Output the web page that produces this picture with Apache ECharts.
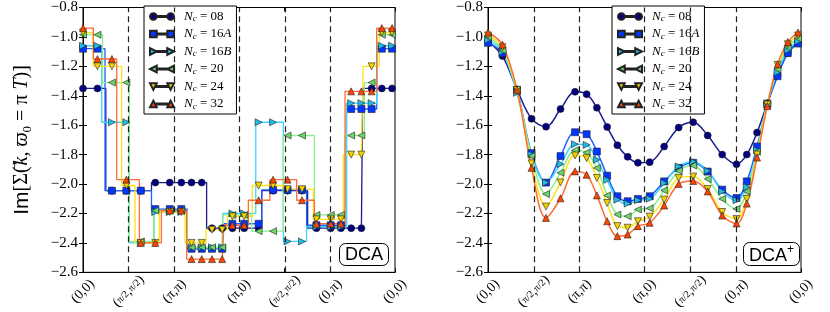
<!DOCTYPE html>
<html><head><meta charset="utf-8">
<script src="https://cdn.jsdelivr.net/npm/echarts@6/dist/echarts.min.js"></script>
<style>html,body{margin:0;padding:0;background:#fff}#c{width:830px;height:312px}</style>
</head><body><div id="c"></div>
<script>
// ---------------- data ----------------
const seriesNames = ['N_c = 08', 'N_c = 16A', 'N_c = 16B', 'N_c = 20', 'N_c = 24', 'N_c = 32'];
const kTickPos = [0, 2.2214, 4.4429, 7.5845, 9.8059, 12.0273, 15.1689];
const kTickLabels = ['(0,0)', '(π/2,π/2)', '(π,π)', '(π,0)', '(π/2,π/2)', '(0,π)', '(0,0)'];
const yTicks = [-2.6, -2.4, -2.2, -2.0, -1.8, -1.6, -1.4, -1.2, -1.0, -0.8];
// k-points (path length) where markers sit
const kSample = [0, 0.703, 1.406, 2.109, 2.811, 3.514, 4.217, 4.780, 5.277, 5.774, 6.271, 6.768, 7.265,
  7.836, 8.538, 9.241, 9.944, 10.647, 11.350, 12.044, 12.541, 13.038, 13.535, 14.032, 14.529, 15.026];

// DCA (left panel): piecewise-constant self-energy, patch boundaries and levels
const dca08Edges = [1.11, 3.33, 6.01, 8.69, 10.92, 13.6];
const dca08Levels = [-1.35, -2.045, -1.99, -2.30, -2.045, -2.30, -1.35];
const dca16AEdges = [1.07, 3.33, 5.07, 6.85, 8.69, 10.87, 12.81, 14.28];
const dca16ALevels = [-1.08, -2.045, -2.17, -2.44, -2.27, -2.04, -2.28, -1.49, -1.08];
const dca16BEdges = [0.91, 2.25, 3.45, 5.07, 6.8, 8.4, 9.74, 10.87, 12.81, 14.28];
const dca16BLevels = [-1.06, -1.58, -2.40, -2.19, -2.43, -2.20, -1.58, -2.39, -2.29, -1.45, -1.06];
const dca20Edges = [0.95, 2.25, 3.45, 5.07, 6.8, 8.2, 9.74, 11.25, 12.74, 13.68, 14.28];
const dca20Levels = [-0.985, -1.31, -2.39, -2.18, -2.43, -2.21, -2.32, -1.67, -2.21, -1.67, -1.31, -0.985];
const dca24Edges = [0.5, 1.88, 2.53, 3.71, 4.96, 5.98, 7.03, 8.23, 9.74, 11.2, 12.66, 13.62, 14.41];
const dca24Levels = [-0.97, -1.20, -2.01, -2.40, -2.19, -2.40, -2.31, -2.22, -2.01, -2.035, -2.24, -1.80, -1.20, -0.97];
const dca32Edges = [0.5, 1.64, 2.74, 3.81, 5.04, 6.85, 8.04, 9.09, 10.39, 11.25, 12.74, 14.28];
const dca32Levels = [-0.94, -1.15, -1.97, -2.40, -2.18, -2.51, -2.28, -2.11, -1.97, -2.11, -2.27, -1.37, -0.94];

// DCA+ (right panel): values at kSample
const dcap08 = [-1.03, -1.13, -1.357, -1.556, -1.61, -1.49, -1.373, -1.389, -1.481, -1.612, -1.736, -1.815, -1.855,
  -1.851, -1.745, -1.616, -1.58, -1.67, -1.80, -1.865, -1.80, -1.65, -1.45, -1.26, -1.11, -1.035];
const dcap16A = [-1.04, -1.11, -1.36, -1.79, -1.99, -1.81, -1.648, -1.661, -1.779, -1.943, -2.083, -2.117, -2.101,
  -2.083, -1.982, -1.89, -1.855, -1.915, -2.038, -2.095, -1.982, -1.745, -1.46, -1.267, -1.11, -1.045];
const dcap16B = [-1.02, -1.10, -1.38, -1.80, -1.99, -1.865, -1.729, -1.734, -1.835, -1.971, -2.106, -2.133, -2.11,
  -2.10, -1.993, -1.88, -1.848, -1.91, -2.05, -2.11, -2.02, -1.77, -1.45, -1.24, -1.09, -1.03];
const dcap20 = [-1.00, -1.09, -1.37, -1.81, -2.068, -1.923, -1.77, -1.786, -1.891, -2.077, -2.207, -2.219, -2.173,
  -2.165, -2.043, -1.91, -1.874, -1.966, -2.101, -2.169, -2.05, -1.78, -1.45, -1.22, -1.07, -1.01];
const dcap24 = [-0.99, -1.07, -1.36, -1.86, -2.153, -1.989, -1.806, -1.824, -1.959, -2.129, -2.286, -2.297, -2.253,
  -2.221, -2.106, -1.959, -1.949, -2.034, -2.19, -2.237, -2.101, -1.80, -1.46, -1.19, -1.05, -0.99];
const dcap32 = [-0.97, -1.053, -1.36, -1.89, -2.23, -2.097, -1.914, -1.937, -2.077, -2.253, -2.354, -2.343, -2.286,
  -2.263, -2.146, -1.999, -1.979, -2.05, -2.214, -2.268, -2.133, -1.82, -1.47, -1.186, -1.035, -0.97];

// ---------------- style ----------------
const lineColors = ['#1c1c92', '#2060ff', '#3cd4ff', '#8cee8c', '#ffe21a', '#ff6a36'];
const markerColors = ['#000080', '#0036ff', '#22bce8', '#6ed66e', '#f2d200', '#ff4400'];
const symbols = ['circle', 'rect', 'triangle', 'triangle', 'triangle', 'triangle'];
const symbolRot = [0, 0, -90, 90, 180, 0];
const legendIcons = [
  'path://M0,3.5A3.5,3.5,0,1,1,7,3.5A3.5,3.5,0,1,1,0,3.5ZM7,3H18V4H7ZM18,3.5A3.5,3.5,0,1,1,25,3.5A3.5,3.5,0,1,1,18,3.5Z',
  'path://M0,0H7V7H0ZM7,3H18V4H7ZM18,0H25V7H18Z',
  'path://M0,0L7,3.5L0,7ZM7,3H18V4H7ZM18,0L25,3.5L18,7Z',
  'path://M7,0L0,3.5L7,7ZM7,3H18V4H7ZM25,0L18,3.5L25,7Z',
  'path://M0,0H7L3.5,7ZM7,3H18V4H7ZM18,0H25L21.5,7Z',
  'path://M3.5,0L7,7H0ZM7,3H18V4H7ZM21.5,0L25,7H18Z'
];
const legendRich = [
  '{it|N}{sub|c}{rm| = 08}', '{it|N}{sub|c}{rm| = 16}{it2|A}', '{it|N}{sub|c}{rm| = 16}{it2|B}',
  '{it|N}{sub|c}{rm| = 20}', '{it|N}{sub|c}{rm| = 24}', '{it|N}{sub|c}{rm| = 32}'
];

const L = kTickPos[kTickPos.length - 1];
const serif = 'Liberation Serif';

function stepItems(edges, levels) {
  const xs = [0].concat(edges, [L]);
  const items = [];
  for (let i = 0; i < levels.length; i++) {
    items.push({ value: [xs[i], levels[i]], symbol: 'none' });
    kSample.forEach(x => { if (x >= xs[i] && x < xs[i + 1]) items.push({ value: [x, levels[i]] }); });
    items.push({ value: [xs[i + 1], levels[i]], symbol: 'none' });
  }
  return items;
}

const dcaSets = [[dca08Edges, dca08Levels], [dca16AEdges, dca16ALevels], [dca16BEdges, dca16BLevels],
  [dca20Edges, dca20Levels], [dca24Edges, dca24Levels], [dca32Edges, dca32Levels]];
const dcapSets = [dcap08, dcap16A, dcap16B, dcap20, dcap24, dcap32];

function xBottom(g) {
  return {
    type: 'value', gridIndex: g, min: 0, max: L, position: 'bottom',
    axisLine: { show: true, lineStyle: { color: '#000', width: 1 } },
    axisTick: { show: true, inside: true, length: 4, customValues: kTickPos, lineStyle: { color: '#000' } },
    splitLine: { show: false },
    axisLabel: {
      customValues: kTickPos, rotate: 45, align: 'center', verticalAlign: 'middle', margin: 19,
      fontFamily: serif, fontSize: 14, color: '#000',
      formatter: v => {
        let i = 0, best = 1e9;
        kTickPos.forEach((t, j) => { if (Math.abs(t - v) < best) { best = Math.abs(t - v); i = j; } });
        return kTickLabels[i].replace(/π\/2/g, '{f|π/2}');
      },
      rich: { f: { fontFamily: serif, fontSize: 10 } }
    }
  };
}
function xTop(g) {
  return {
    type: 'value', gridIndex: g, min: 0, max: L, position: 'top',
    axisLine: { show: true, lineStyle: { color: '#000', width: 1 } },
    axisTick: { show: true, inside: true, length: 4, customValues: kTickPos, lineStyle: { color: '#000' } },
    splitLine: { show: false }, axisLabel: { show: false }
  };
}
function yLeft(g, withName) {
  const ax = {
    type: 'value', gridIndex: g, min: -2.6, max: -0.8, interval: 0.2, position: 'left',
    axisLine: { show: true, lineStyle: { color: '#000', width: 1 } },
    axisTick: { show: true, inside: true, length: 4, lineStyle: { color: '#000' } },
    splitLine: { show: false },
    axisLabel: { margin: 5, fontFamily: serif, fontSize: 15, color: '#000',
      formatter: v => v.toFixed(1).replace('-', '−') }
  };
  if (withName) {
    ax.name = '{sans|Im}{ser|[Σ(}{arr|→}{it|k}{ser|, }{it|ϖ}{sub|0}{ser| = π }{it|T}{ser|)]}';
    ax.nameLocation = 'middle';
    ax.nameRotate = 90;
    ax.nameGap = 49;
    ax.nameTextStyle = {
      color: '#000', fontSize: 20,
      rich: {
        sans: { fontFamily: 'Liberation Sans', fontSize: 21, lineHeight: 24 },
        ser: { fontFamily: serif, fontSize: 20, lineHeight: 24 },
        it: { fontFamily: serif, fontStyle: 'italic', fontSize: 20, lineHeight: 24 },
        arr: { fontFamily: 'DejaVu Sans', fontSize: 10, lineHeight: 10, width: 1, align: 'left', verticalAlign: 'top' },
        sub: { fontFamily: serif, fontSize: 13, lineHeight: 10, verticalAlign: 'bottom' }
      }
    };
  }
  return ax;
}
function yRight(g) {
  return {
    type: 'value', gridIndex: g, min: -2.6, max: -0.8, interval: 0.2, position: 'right',
    axisLine: { show: true, lineStyle: { color: '#000', width: 1 } },
    axisTick: { show: true, inside: true, length: 4, lineStyle: { color: '#000' } },
    splitLine: { show: false }, axisLabel: { show: false }
  };
}

function vLines(xi, yi) {
  return {
    type: 'line', name: 'sym-lines-' + xi, xAxisIndex: xi, yAxisIndex: yi, data: [], z: 1, silent: true,
    markLine: {
      silent: true, symbol: ['none', 'none'], label: { show: false }, animation: false,
      lineStyle: { color: '#222', width: 1.2, type: [6, 4] },
      data: kTickPos.slice(1, -1).map(v => ({ xAxis: v }))
    }
  };
}

const series = [vLines(0, 0), vLines(2, 2)];
dcaSets.forEach((s, k) => {
  series.push({
    type: 'line', name: seriesNames[k], xAxisIndex: 0, yAxisIndex: 0, z: 2,
    data: stepItems(s[0], s[1]),
    symbol: symbols[k], symbolRotate: symbolRot[k], symbolSize: 7, showSymbol: true, showAllSymbol: true,
    lineStyle: { color: lineColors[k], width: 1.3 },
    itemStyle: { color: markerColors[k], borderColor: '#222', borderWidth: 0.6 }
  });
});
dcapSets.forEach((vals, k) => {
  series.push({
    type: 'line', name: seriesNames[k], xAxisIndex: 2, yAxisIndex: 2, z: 2,
    data: kSample.map((x, i) => [x, vals[i]]),
    smooth: 0.35,
    symbol: symbols[k], symbolRotate: symbolRot[k], symbolSize: 7, showSymbol: true, showAllSymbol: true,
    lineStyle: { color: lineColors[k], width: 1.5 },
    itemStyle: { color: markerColors[k], borderColor: '#222', borderWidth: 0.6 }
  });
});

function legend(left) {
  return {
    left: left, top: 6, orient: 'vertical', selectedMode: false,
    backgroundColor: '#fff', borderColor: '#000', borderWidth: 1, borderRadius: 0,
    padding: [4, 5, 3, 5], itemGap: 4, itemWidth: 24, itemHeight: 7,
    data: seriesNames.map((n, k) => ({ name: n, icon: legendIcons[k] })),
    formatter: name => legendRich[seriesNames.indexOf(name)],
    textStyle: {
      color: '#000', fontFamily: serif, fontSize: 13,
      rich: {
        it: { fontFamily: serif, fontStyle: 'italic', fontSize: 13, lineHeight: 14, padding: [0, 0, 0, 5] },
        it2: { fontFamily: serif, fontStyle: 'italic', fontSize: 13, lineHeight: 14 },
        sub: { fontFamily: serif, fontStyle: 'italic', fontSize: 9, lineHeight: 7, verticalAlign: 'bottom' },
        rm: { fontFamily: serif, fontSize: 13, lineHeight: 14 }
      }
    }
  };
}

const option = {
  animation: false,
  backgroundColor: '#fff',
  title: [
    { text: 'DCA', right: 441, bottom: 46, padding: [3, 6, 2, 6], borderColor: '#000', borderWidth: 1,
      borderRadius: 6, backgroundColor: '#fff',
      textStyle: { fontFamily: 'Liberation Sans', fontSize: 18, fontWeight: 'normal', color: '#000', lineHeight: 18 } },
    { text: '{a|DCA}{s|+}', right: 30, bottom: 46, padding: [2, 6, 1, 6], borderColor: '#000', borderWidth: 1,
      borderRadius: 6, backgroundColor: '#fff',
      textStyle: { color: '#000', fontWeight: 'normal', rich: {
        a: { fontFamily: 'Liberation Sans', fontSize: 18, fontWeight: 'normal', lineHeight: 24, color: '#000' },
        s: { fontFamily: 'Liberation Sans', fontSize: 12, fontWeight: 'normal', lineHeight: 12, verticalAlign: 'top', color: '#000' } } } }
  ],
  grid: [
    { left: 83, top: 7, width: 312, height: 266, show: true, borderColor: '#000', borderWidth: 1 },
    { left: 488, top: 7, width: 313, height: 266, show: true, borderColor: '#000', borderWidth: 1 }
  ],
  xAxis: [xBottom(0), xTop(0), xBottom(1), xTop(1)],
  yAxis: [yLeft(0, true), yRight(0), yLeft(1, false), yRight(1)],
  legend: [legend(144), legend(612)],
  series: series
};

const chart = echarts.init(document.getElementById('c'), null, { renderer: 'canvas' });
chart.setOption(option);
</script>
</body></html>
